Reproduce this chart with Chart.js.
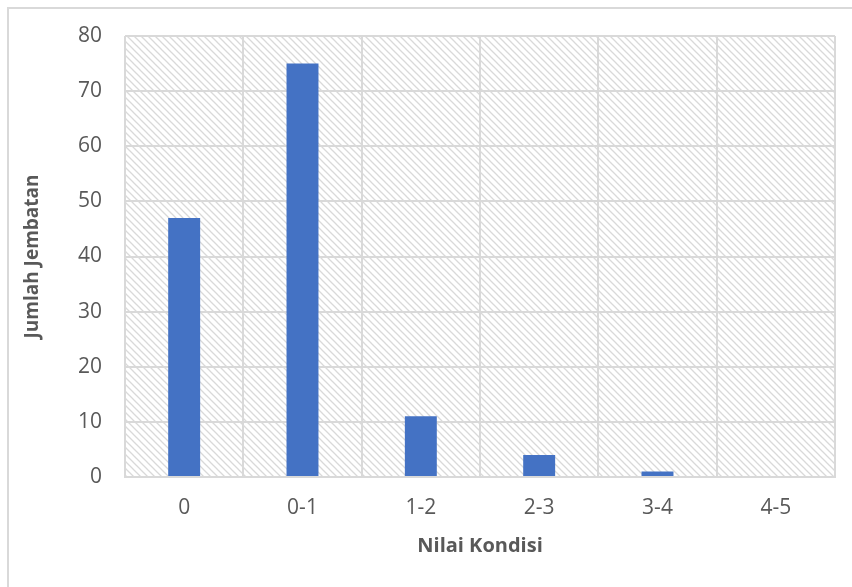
<!DOCTYPE html>
<html>
<head>
<meta charset="utf-8">
<script src="https://cdn.jsdelivr.net/npm/chart.js@4/dist/chart.umd.min.js"></script>
<style>
html,body{margin:0;padding:0;background:#fff;}
#wrap{position:relative;width:852px;height:587px;}
#frame{position:absolute;left:7px;top:7px;width:900px;height:700px;border-top:2px solid #d9d9d9;border-left:2px solid #d9d9d9;box-sizing:border-box;pointer-events:none;}
canvas{position:absolute;left:0;top:0;}
</style>
</head>
<body>
<div id="wrap">
<div id="frame"></div>
<canvas id="c" width="852" height="587"></canvas>
</div>
<script>
const categories = ["0", "0-1", "1-2", "2-3", "3-4", "4-5"];
const jumlahJembatan = [47, 75, 11, 4, 1, 0];
const yTicks = [0, 10, 20, 30, 40, 50, 60, 70, 80];
const xTitle = "Nilai Kondisi";
const yTitle = "Jumlah Jembatan";

function makePattern(ctx){
  const t = document.createElement('canvas');
  t.width = 7; t.height = 7;
  const g = t.getContext('2d');
  g.strokeStyle = 'rgba(210,210,210,0.85)';
  g.lineWidth = 1.3;
  g.beginPath();
  g.moveTo(-1,-1); g.lineTo(8,8);
  g.moveTo(-1,6); g.lineTo(1,8);
  g.moveTo(6,-1); g.lineTo(8,1);
  g.stroke();
  return ctx.createPattern(t,'repeat');
}

const hatch = {
  id:'hatch',
  beforeDraw(chart){
    const {ctx, chartArea:a} = chart;
    ctx.save();
    ctx.fillStyle = makePattern(ctx);
    ctx.fillRect(a.left, a.top, a.right-a.left, a.bottom-a.top);
    ctx.restore();
  }
};

const font = "'Open Sans', 'Liberation Sans', sans-serif";
new Chart(document.getElementById('c'), {
  type:'bar',
  data:{labels:categories, datasets:[{data:jumlahJembatan, backgroundColor:'#4472c4', categoryPercentage:1, barPercentage:0.27}]},
  options:{
    responsive:false, animation:false,
    layout:{padding:{left:8, right:17, top:36, bottom:25}},
    plugins:{legend:{display:false}, tooltip:{enabled:false}},
    scales:{
      x:{
        grid:{color:'#d9d9d9', lineWidth:2, offset:true, drawTicks:false},
        border:{color:'#d9d9d9', width:2},
        ticks:{color:'#595959', font:{family:font, size:21}, padding:18},
        title:{display:true, text:xTitle, color:'#595959', font:{family:font, size:20, weight:'bold'}, padding:{top:8, bottom:4}},
        afterFit(s){ s.height = 85; }
      },
      y:{
        min:0, max:80,
        afterBuildTicks(s){ s.ticks = yTicks.map(v=>({value:v})); },
        grid:{color:'#d9d9d9', lineWidth:2, drawTicks:false},
        border:{display:false},
        ticks:{color:'#595959', font:{family:font, size:21}, padding:23},
        title:{display:true, text:yTitle, color:'#595959', font:{family:font, size:19, weight:'bold'}, padding:{top:13, bottom:4}},
        afterFit(s){ s.width = 117; }
      }
    }
  },
  plugins:[hatch]
});
</script>
</body>
</html>
